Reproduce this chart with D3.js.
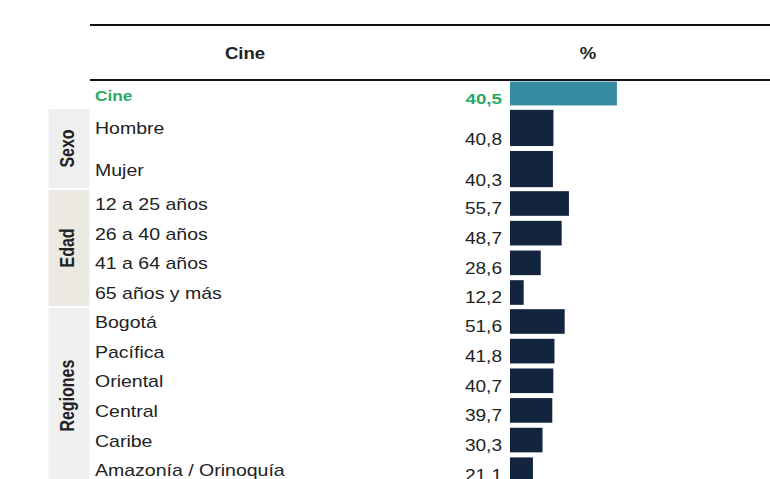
<!DOCTYPE html>
<html>
<head>
<meta charset="utf-8">
<script src="https://cdn.jsdelivr.net/npm/d3@7"></script>
<style>
  html, body { margin: 0; padding: 0; background: #ffffff; }
  svg { display: block; font-family: "Liberation Sans", Arial, sans-serif; }
</style>
</head>
<body>
<svg id="chart" width="770" height="479"></svg>
<script>
// Column headers
const headers = ["Cine", "%"];

// Overall figure
const totalLabel = "Cine";
const totalValue = 40.5;

// Breakdown groups
const groups = ["Sexo", "Edad", "Regiones"];
const categories = [
  "Hombre", "Mujer",
  "12 a 25 años", "26 a 40 años", "41 a 64 años", "65 años y más",
  "Bogotá", "Pacífica", "Oriental", "Central", "Caribe", "Amazonía / Orinoquía"
];
const categoryGroup = [
  "Sexo", "Sexo",
  "Edad", "Edad", "Edad", "Edad",
  "Regiones", "Regiones", "Regiones", "Regiones", "Regiones", "Regiones"
];
const values = [40.8, 40.3, 55.7, 48.7, 28.6, 12.2, 51.6, 41.8, 40.7, 39.7, 30.3, 21.1];

const W = 770, H = 479;
const svg = d3.select("#chart");

const fmt = v => d3.format(".1f")(v).replace(".", ",");
const STRETCH = 1.22;          // wide set type
const barX0 = 510;

// Scales: the overall bar has its own, wider scale
const xTotal = d3.scaleLinear().domain([0, 100]).range([barX0, barX0 + 264]);
const x = d3.scaleLinear().domain([0, 100]).range([barX0 + 1, barX0 + 105]);

const colors = {
  text: "#222222",
  green: "#2ba866",
  total: "#378ba3",
  bar: "#13243f",
  panel: { Sexo: "#efefef", Edad: "#ebe9e1", Regiones: "#f0f0f0" }
};

// Helper for horizontally stretched text
function label(g, txt, tx, ty, opts = {}) {
  return g.append("text")
    .attr("transform", `translate(${tx},${ty}) scale(${opts.sx || STRETCH},1)` + (opts.rotate ? ` rotate(${opts.rotate})` : ""))
    .attr("font-size", opts.size || 16)
    .attr("font-weight", opts.bold ? "bold" : "normal")
    .attr("fill", opts.fill || colors.text)
    .attr("text-anchor", opts.anchor || "start")
    .text(txt);
}

// Header rules
const ruleX0 = 90;
[25, 80].forEach(yy => {
  svg.append("line")
    .attr("x1", ruleX0).attr("x2", W)
    .attr("y1", yy).attr("y2", yy)
    .attr("stroke", "#111").attr("stroke-width", 1.8);
});

// Header texts
label(svg, headers[0], 245, 59, { bold: true, anchor: "middle", sx: 1.16 });
label(svg, headers[1], 588, 59, { bold: true, anchor: "middle", sx: 1.16 });

// Overall row
const totalBand = d3.scaleBand().domain([totalLabel]).range([80, 109]).paddingInner(0).paddingOuter(0.06);
const tY = totalBand(totalLabel), tH = totalBand.bandwidth() - 2;
svg.append("rect")
  .attr("x", barX0).attr("y", tY)
  .attr("width", xTotal(totalValue) - barX0).attr("height", tH)
  .attr("fill", colors.total);
label(svg, totalLabel, 95, tY + tH / 2 + 7, { bold: true, size: 15, fill: colors.green, sx: 1.15 });
label(svg, fmt(totalValue), 502, tY + tH - 1.5, { bold: true, size: 15, fill: colors.green, anchor: "end", sx: 1.25 });

// Group blocks
let yStart = 109;
groups.forEach(g => {
  const idx = categories.map((c, i) => i).filter(i => categoryGroup[i] === g);
  const step = g === "Sexo" ? 39.5 : (g === "Edad" ? 29 : 29.2);
  const yEnd = yStart + step * idx.length;

  const band = d3.scaleBand()
    .domain(idx.map(i => categories[i]))
    .range([yStart, yEnd])
    .paddingInner(g === "Sexo" ? 0.12 : 0.17)
    .paddingOuter(g === "Sexo" ? 0.02 : 0.04);

  // group panel
  svg.append("rect")
    .attr("x", 48.5).attr("y", yStart)
    .attr("width", 41).attr("height", yEnd - yStart)
    .attr("fill", colors.panel[g]);
  label(svg, g, 74, (yStart + yEnd) / 2, { bold: true, size: 16, rotate: -90, anchor: "middle", sx: 1.28 });

  const rows = svg.append("g");
  idx.forEach(i => {
    const c = categories[i];
    const by = band(c), bh = band.bandwidth();
    rows.append("rect")
      .attr("x", barX0).attr("y", by)
      .attr("width", x(values[i]) - barX0).attr("height", bh)
      .attr("fill", colors.bar);
    label(rows, c, 95, by + bh / 2 + 6.5, { size: 16 });
    label(rows, fmt(values[i]), 502, by + bh - 1.5, { size: 16, anchor: "end", sx: 1.19 });
  });

  yStart = yEnd + 2;
});
</script>
</body>
</html>
